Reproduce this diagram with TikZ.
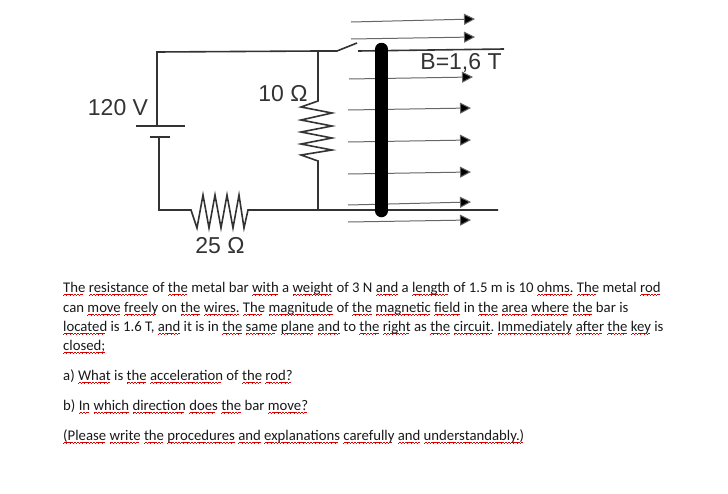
\documentclass[tikz,border=0pt]{standalone}
\usepackage{fontspec}
\setmainfont{Carlito}
\newfontfamily\labelfont{Liberation Sans}
\usepackage{tikz}
\usetikzlibrary{arrows.meta,calc}
\newcommand{\wavecell}{\hbox{%
  \vrule width .8pt height -2.6pt depth 3.6pt
  \vrule width .8pt height -2.1pt depth 3.1pt
  \vrule width .8pt height -1.6pt depth 2.6pt
  \vrule width .8pt height -2.1pt depth 3.1pt}}
\newcommand{\wavy}[1]{\setbox0=\hbox{#1}\rlap{\hbox to \wd0{\color{red!85!black}\leaders\wavecell\hfil}}\box0 }
\tikzset{
  wire/.style={line width=1.6pt,draw=black!80},
  fieldline/.style={line width=1pt,draw=black!60,-{Triangle[length=11pt,width=11pt,fill=black]}},
  lbl/.style={font=\labelfont\fontsize{23}{23}\selectfont,text=black!80,inner sep=0pt},
  txt/.style={anchor=base west,inner sep=0pt,font=\fontsize{14.75}{17}\selectfont,text=black!90}
}
\begin{document}
\begin{tikzpicture}[x=1pt,y=-1pt]
\useasboundingbox (0,0) rectangle (728,493);
% circuit corners
\coordinate (topleft) at (157,52);
\coordinate (plusend) at (157,126);
\coordinate (minusend) at (159,137);
\coordinate (botleft) at (159,210);
\coordinate (botright) at (498,210);
\coordinate (rtop) at (318,51);
\coordinate (rbot) at (318,210);
\coordinate (swleft) at (337,51);
\coordinate (swtip) at (357,43);
\coordinate (railleft) at (358,51);
\coordinate (railright) at (504,49);
% field
\foreach \i/\xa/\ya/\xb/\yb in {1/351/22/475/19,2/351/39/475/37,3/349/79/473/77,4/348/110/471/108,5/348/142/471/140,6/348/174/471/172,7/348/205/471/202,8/348/222/471/220}{
  \coordinate (fa\i) at (\xa,\ya);
  \coordinate (fb\i) at (\xb,\yb);
  \draw[fieldline] (fa\i) -- (fb\i);
}
% wires
\draw[wire] (plusend) -- (topleft) -- (rtop) -- (swleft) -- (swtip);
\draw[wire] (railleft) -- (railright);
\draw[wire] (minusend) -- (botleft) -- (191,210) -- (197,228) -- (203,195) -- (209,228) -- (215,195) -- (221,228) -- (227,195) -- (233,228) -- (239,195) -- (244,228) -- (248,210) -- (botright);
\draw[wire] (rtop) -- (318,101) -- (301,107) -- (332,113) -- (301,120) -- (332,126) -- (301,132) -- (332,138) -- (301,144) -- (332,150) -- (301,155) -- (318,161) -- (rbot);
% battery
\draw[wire] (136,126) -- (185,126);
\draw[wire] (150,137) -- (170,137);
% bar
\draw[line width=12.5pt,line cap=round] (381.5,49) -- (381.5,211);
% labels
\node[lbl] (volt) at (118,108) {120 V};
\node[lbl] (rten) at (283,94) {10 Ω};
\node[lbl] (rtwf) at (220,246) {25 Ω};
\node[lbl] (field) at (461,63) {B=1,6 T};
% text
\node[txt] (line1) at (63,292) {\wavy{The} \wavy{resistance} of \wavy{the} metal bar \wavy{with} a \wavy{weight} of 3 N \wavy{and} a \wavy{length} of 1.5 m is 10 \wavy{ohms.} \wavy{The} metal \wavy{rod}};
\node[txt] (line2) at (63,312) {can \wavy{move} \wavy{freely} on \wavy{the} \wavy{wires.} \wavy{The} \wavy{magnitude} of \wavy{the} \wavy{magnetic} \wavy{field} in \wavy{the} \wavy{area} \wavy{where} \wavy{the} bar is};
\node[txt] (line3) at (63,331) {\wavy{located} is 1.6 T, \wavy{and} it is in \wavy{the} \wavy{same} \wavy{plane} \wavy{and} to \wavy{the} \wavy{right} as \wavy{the} \wavy{circuit.} \wavy{Immediately} \wavy{after} \wavy{the} \wavy{key} is};
\node[txt] (line4) at (63,350) {\wavy{closed;}};
\node[txt] (parta) at (63,380) {a) \wavy{What} is \wavy{the} \wavy{acceleration} of \wavy{the} \wavy{rod?}};
\node[txt] (partb) at (63,410) {b) \wavy{In} \wavy{which} \wavy{direction} \wavy{does} \wavy{the} bar \wavy{move?}};
\node[txt] (note) at (63,440) {\wavy{(Please} \wavy{write} \wavy{the} \wavy{procedures} \wavy{and} \wavy{explanations} \wavy{carefully} \wavy{and} \wavy{understandably.)}};
\end{tikzpicture}
\end{document}
